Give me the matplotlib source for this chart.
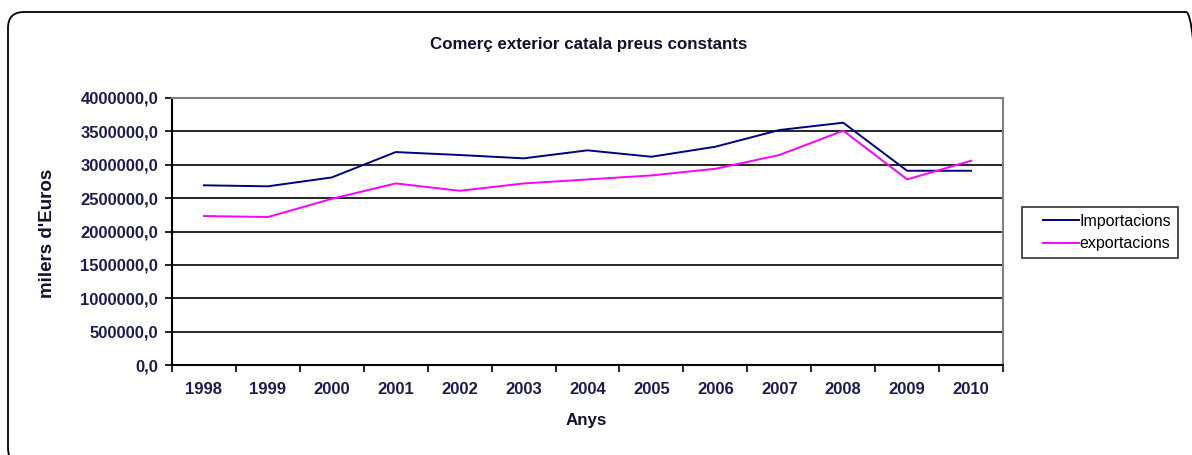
import matplotlib
matplotlib.use("Agg")
import numpy as np
import matplotlib.pyplot as plt
from matplotlib.patches import FancyBboxPatch
from matplotlib.ticker import FuncFormatter, FixedLocator
from matplotlib.legend_handler import HandlerLine2D
from matplotlib.lines import Line2D

years = ["1998", "1999", "2000", "2001", "2002", "2003", "2004",
         "2005", "2006", "2007", "2008", "2009", "2010"]
importacions = [2692000, 2677000, 2810000, 3190000, 3146000, 3096000, 3216000,
                3120000, 3270000, 3520000, 3630000, 2910000, 2910000]
exportacions = [2232000, 2217000, 2490000, 2720000, 2610000, 2720000, 2780000,
                2840000, 2940000, 3146000, 3510000, 2780000, 3060000]

plt.rcParams['font.family'] = ['Liberation Sans', 'DejaVu Sans']

W, H = 1192, 455
fig = plt.figure(figsize=(W / 100, H / 100), dpi=100)
fig.patch.set_facecolor('white')

# outer rounded border (partly beyond the right and bottom edges)
bx0, by0, bx1, by1 = 8, 12, 1202, 464
border = FancyBboxPatch((bx0 / W, 1 - by1 / H), (bx1 - bx0) / W, (by1 - by0) / H,
                        boxstyle="round,pad=0,rounding_size=%f" % (16 / W),
                        transform=fig.transFigure, fill=False,
                        edgecolor='black', linewidth=1.3,
                        mutation_aspect=W / H, clip_on=False)
fig.patches.append(border)

ax = fig.add_axes([172 / W, 90 / H, 831 / W, 267 / H])
x = list(range(len(years)))
ax.plot(x, importacions, color='#000080', lw=1.4, label='Importacions')
ax.plot(x, exportacions, color='#ff00ff', lw=1.4, label='exportacions')

ax.set_xlim(-0.5, len(years) - 0.5)
ax.set_ylim(0, 4000000)
ax.set_yticks([i * 500000 for i in range(9)])
ax.yaxis.set_major_formatter(FuncFormatter(lambda v, p: f"{int(v)},0"))
ax.grid(axis='y', color='black', lw=1.2)
ax.set_axisbelow(True)

ax.set_xticks(x)
ax.set_xticklabels(years)
ax.xaxis.set_minor_locator(FixedLocator([i - 0.5 for i in range(len(years) + 1)]))
ax.tick_params(axis='x', which='major', length=0, pad=12)
ax.tick_params(axis='x', which='minor', length=5, width=1.2, direction='out')
ax.tick_params(axis='y', length=5, width=1.2, direction='out', pad=5)
for lab in ax.get_xticklabels() + ax.get_yticklabels():
    lab.set_fontsize(12)
    lab.set_fontweight('bold')
    lab.set_color('#1c1c50')

for s in ['left', 'bottom']:
    ax.spines[s].set_color('black')
    ax.spines[s].set_linewidth(1.5)
for s in ['top', 'right']:
    ax.spines[s].set_color('#808080')
    ax.spines[s].set_linewidth(1.5)

fig.text(589 / W, 1 - 45 / H, "Comerç exterior catala preus constants",
         ha='center', va='center', fontsize=12.2, fontweight='bold',
         color='#101030')
fig.text(48 / W, 1 - 233 / H, "milers d'Euros", rotation=90,
         ha='center', va='center', fontsize=13.5, fontweight='bold',
         color='#101030')
fig.text(586 / W, 1 - 421 / H, "Anys", ha='center', va='center',
         fontsize=12.2, fontweight='bold', color='#101030')


class ShortLineHandler(HandlerLine2D):
    """Legend line drawn only over the right part of the handle box."""
    def create_artists(self, legend, orig_handle, xdescent, ydescent,
                       width, height, fontsize, trans):
        arts = super().create_artists(legend, orig_handle, xdescent, ydescent,
                                      width, height, fontsize, trans)
        for a in arts:
            xd = np.asarray(a.get_xdata(), dtype=float)
            if len(xd) >= 2:
                start = xd[0] + 0.28 * (xd[-1] - xd[0])
                a.set_xdata(np.linspace(start, xd[-1], len(xd)))
        return arts


leg = ax.legend(loc='center left', bbox_to_anchor=(1022 / W, 1 - 232.5 / H),
                bbox_transform=fig.transFigure, frameon=True, fancybox=False,
                edgecolor='black', fontsize=11.5, handlelength=3.1,
                handletextpad=0.05, borderpad=0.45, labelspacing=0.45,
                borderaxespad=0, handler_map={Line2D: ShortLineHandler()})
leg.get_frame().set_linewidth(1.2)

fig.savefig("out.png", dpi=100, facecolor='white')
